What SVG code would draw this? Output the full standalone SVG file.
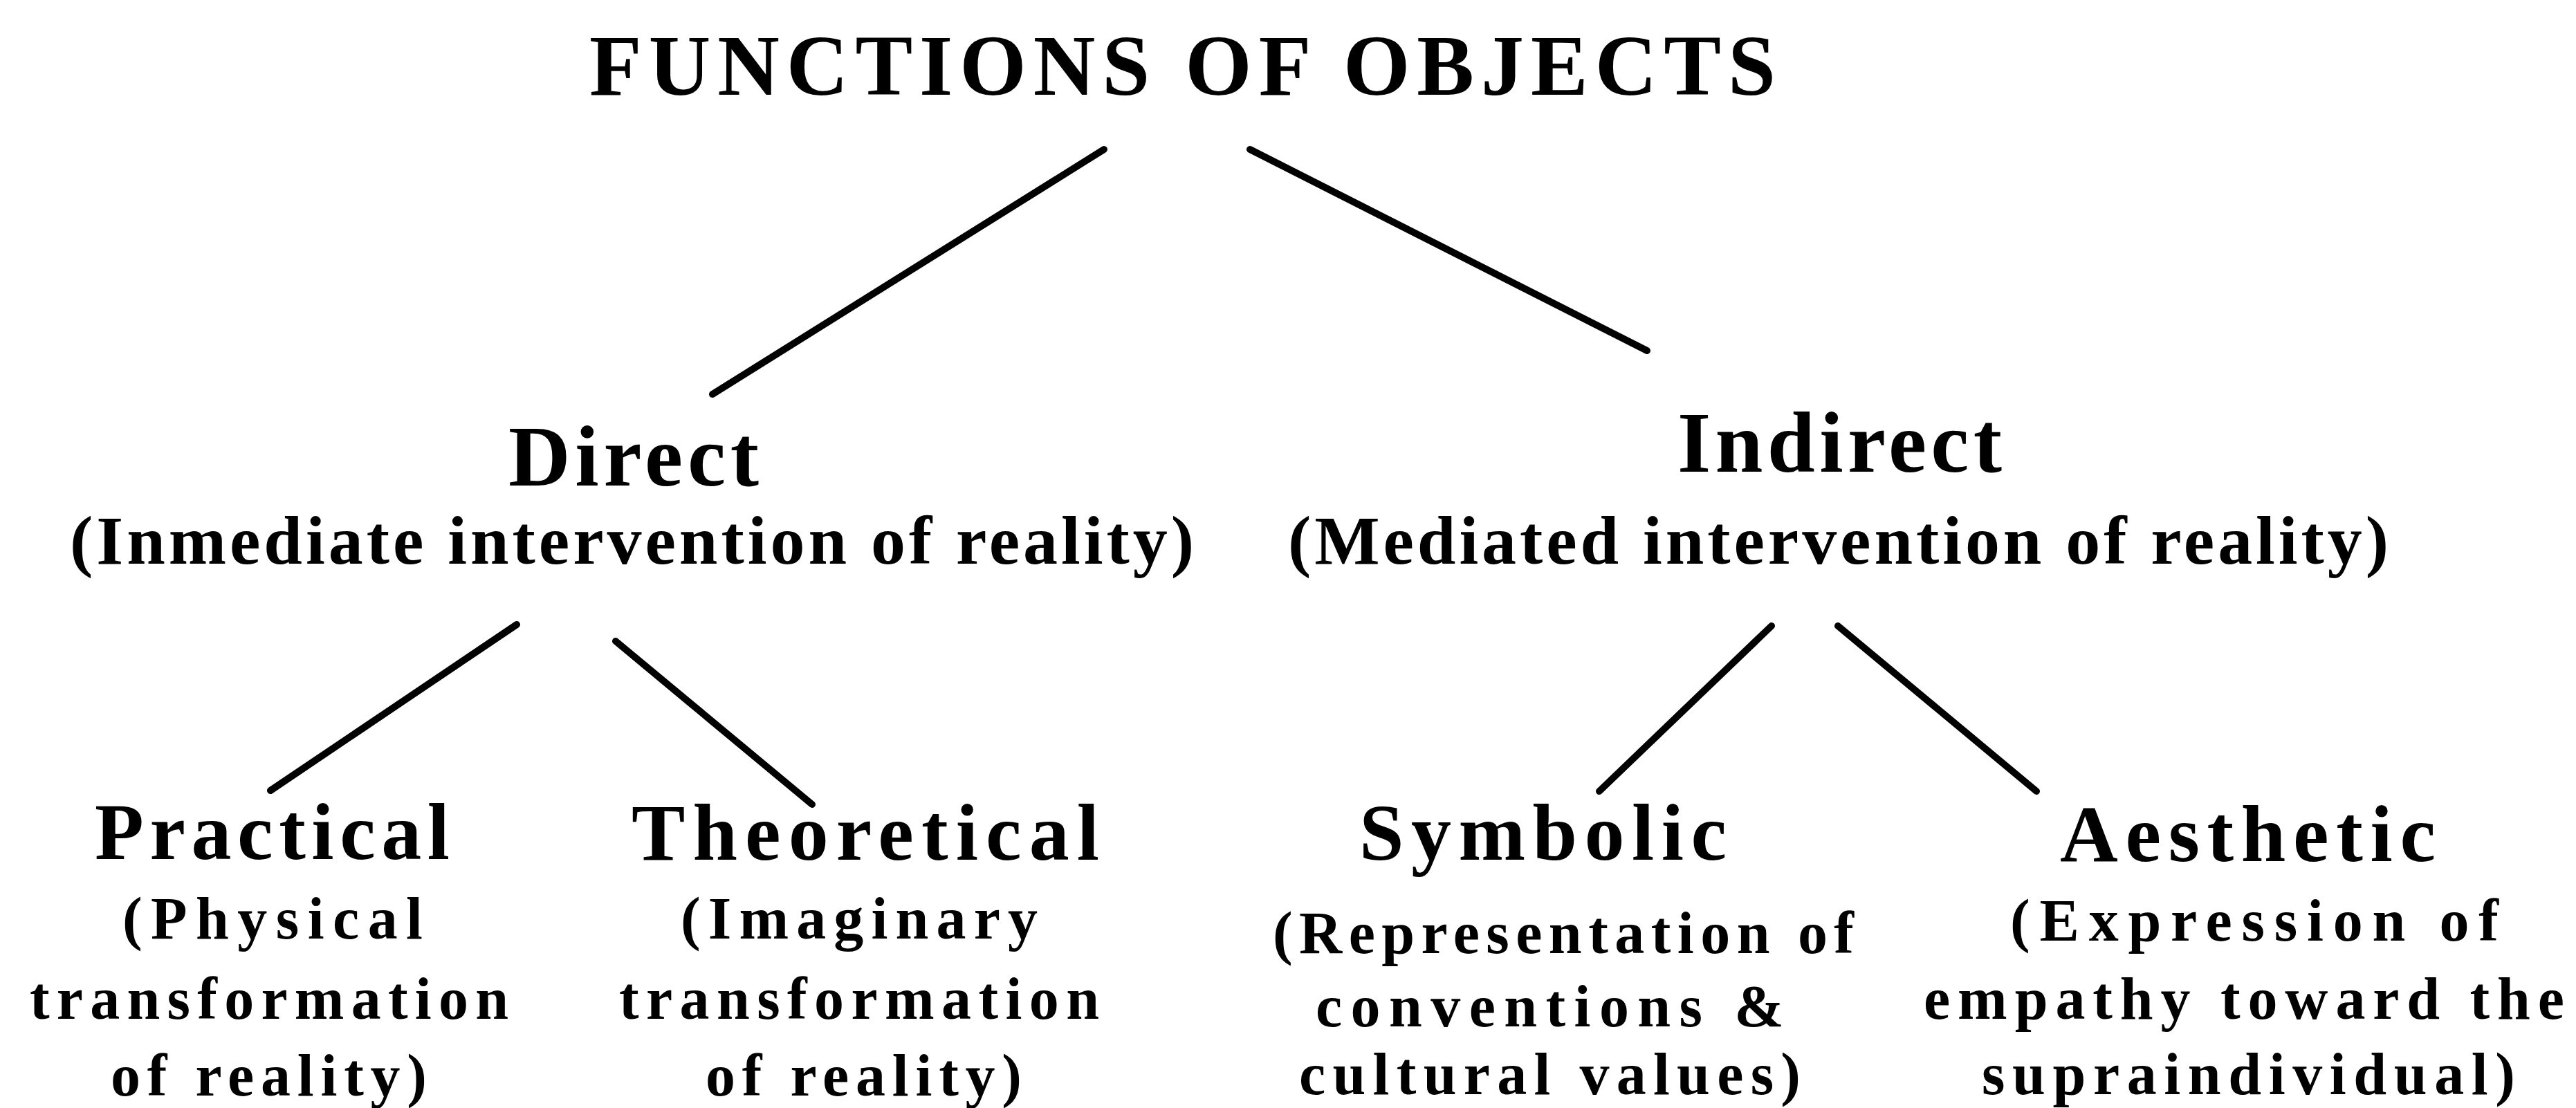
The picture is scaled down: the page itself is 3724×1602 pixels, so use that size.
<svg xmlns="http://www.w3.org/2000/svg" width="3724" height="1602" viewBox="0 0 3724 1602">
  <style>
    text { font-family: "Liberation Serif", "Times New Roman", serif; font-weight: bold; fill: #000; }
    .title { font-size: 124px; }
    .head { font-size: 124px; }
    .sub { font-size: 100px; }
    .leaf { font-size: 116px; }
    .leafsub { font-size: 86px; }
    .link { stroke: #000; stroke-width: 10; stroke-linecap: round; fill: none; }
  </style>
  <rect x="0" y="0" width="3724" height="1602" fill="#fff"/>

  <!-- tree branches -->
  <g id="connectors">
    <line class="link" x1="1596" y1="216" x2="1030" y2="570"/>
    <line class="link" x1="1807" y1="216" x2="2381" y2="507"/>
    <line class="link" x1="747" y1="903" x2="391" y2="1143"/>
    <line class="link" x1="890" y1="927" x2="1174" y2="1163"/>
    <line class="link" x1="2561" y1="905" x2="2312" y2="1144"/>
    <line class="link" x1="2657" y1="905" x2="2944" y2="1144"/>
  </g>

  <g id="root">
    <text class="title" x="852" y="137" textLength="1715" lengthAdjust="spacing">FUNCTIONS OF OBJECTS</text>
  </g>

  <g id="direct">
    <text class="head" x="735" y="702" textLength="362" lengthAdjust="spacing">Direct</text>
    <text class="sub" x="101" y="815" textLength="1625" lengthAdjust="spacing">(Inmediate intervention of reality)</text>
  </g>

  <g id="indirect">
    <text class="head" x="2425" y="682" textLength="469" lengthAdjust="spacing">Indirect</text>
    <text class="sub" x="1862" y="815" textLength="1591" lengthAdjust="spacing">(Mediated intervention of reality)</text>
  </g>

  <g id="practical">
    <text class="leaf" x="137" y="1242" textLength="513" lengthAdjust="spacing">Practical</text>
    <text class="leafsub" x="177" y="1357" textLength="434" lengthAdjust="spacing">(Physical</text>
    <text class="leafsub" x="43" y="1473" textLength="692" lengthAdjust="spacing">transformation</text>
    <text class="leafsub" x="160" y="1584" textLength="457" lengthAdjust="spacing">of reality)</text>
  </g>

  <g id="theoretical">
    <text class="leaf" x="913" y="1243" textLength="676" lengthAdjust="spacing">Theoretical</text>
    <text class="leafsub" x="984" y="1357" textLength="516" lengthAdjust="spacing">(Imaginary</text>
    <text class="leafsub" x="895" y="1473" textLength="694" lengthAdjust="spacing">transformation</text>
    <text class="leafsub" x="1020" y="1584" textLength="457" lengthAdjust="spacing">of reality)</text>
  </g>

  <g id="symbolic">
    <text class="leaf" x="1965" y="1243" textLength="531" lengthAdjust="spacing">Symbolic</text>
    <text class="leafsub" x="1840" y="1378" textLength="840" lengthAdjust="spacing">(Representation of</text>
    <text class="leafsub" x="1902" y="1484" textLength="677" lengthAdjust="spacing">conventions &amp;</text>
    <text class="leafsub" x="1878" y="1582" textLength="725" lengthAdjust="spacing">cultural values)</text>
  </g>

  <g id="aesthetic">
    <text class="leaf" x="2978" y="1245" textLength="543" lengthAdjust="spacing">Aesthetic</text>
    <text class="leafsub" x="2906" y="1360" textLength="706" lengthAdjust="spacing">(Expression of</text>
    <text class="leafsub" x="2781" y="1473" textLength="926" lengthAdjust="spacing">empathy toward the</text>
    <text class="leafsub" x="2865" y="1582" textLength="771" lengthAdjust="spacing">supraindividual)</text>
  </g>
</svg>
